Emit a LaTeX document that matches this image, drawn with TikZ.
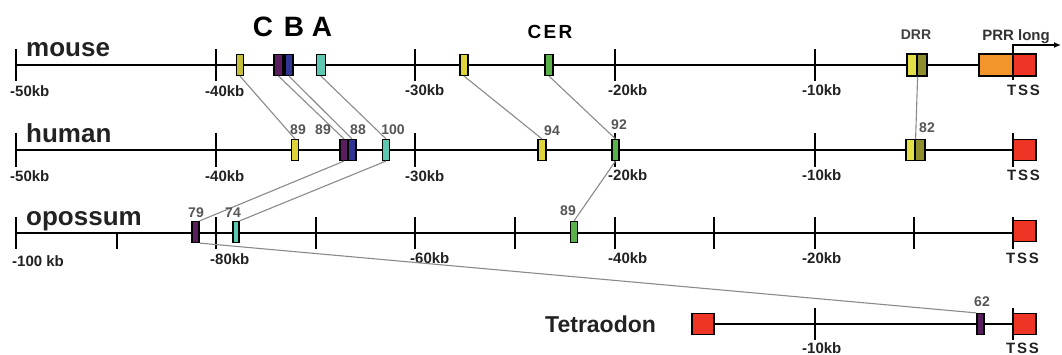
\documentclass[tikz,border=0pt]{standalone}
\usepackage{fontspec}
\setmainfont{Liberation Sans}
\usetikzlibrary{arrows.meta}
\definecolor{cyel}{HTML}{DCD43A}
\definecolor{colive}{HTML}{C4BE3C}
\definecolor{cpur}{HTML}{5A1D5E}
\definecolor{cblue}{HTML}{2F3590}
\definecolor{cteal}{HTML}{5CC8B2}
\definecolor{cgreen}{HTML}{58B248}
\definecolor{cdrry}{HTML}{E2E046}
\definecolor{cdrro}{HTML}{8E8E2E}
\definecolor{corange}{HTML}{F2962C}
\definecolor{cred}{HTML}{EE3424}
\definecolor{cconn}{HTML}{8A8A8A}
\definecolor{clab}{HTML}{222222}
\definecolor{cnum}{HTML}{555555}
\begin{document}
\begin{tikzpicture}[x=1pt,y=-1pt,
  box/.style={draw=black, line width=1.2pt, inner sep=0pt, minimum height=21pt},
  conn/.style={draw=cconn, line width=1.1pt},
  axis/.style={line width=2.6pt, black},
  tk/.style={line width=2.6pt, black},
  kb/.style={font=\bfseries\fontsize{15}{15}\selectfont, text=clab, anchor=west, inner sep=0pt},
  tss/.style={font=\bfseries\fontsize{15}{15}\selectfont\addfontfeature{LetterSpace=12}, text=clab, anchor=west, inner sep=0pt},
  num/.style={font=\bfseries\fontsize{14}{14}\selectfont, text=cnum, inner sep=0pt},
  species/.style={font=\bfseries\fontsize{26}{26}\selectfont, text=clab, anchor=base west, inner sep=0pt},
  title/.style={font=\bfseries\fontsize{28}{28}\selectfont, text=black, inner sep=0pt},
]
\useasboundingbox (0,0) rectangle (1062,355);

% ---------- axes ----------
\draw[axis] (16,65) -- (1013,65);
\draw[axis] (16,150) -- (1013,150);
\draw[axis] (16,233) -- (1013,233);

% ---------- ticks ----------
\foreach \x in {16,216,415,615,815} {
  \draw[tk] (\x,49) -- (\x,81);
  \draw[tk] (\x,133) -- (\x,167);
}
\foreach \x in {16,216,316,415,515,615,714,815,914} {
  \draw[tk] (\x,217) -- (\x,249);
}
\draw[tk] (117,233) -- (117,249);

% ---------- species labels ----------
\node[species] (lmouse) at (26,57) {mouse};
\node[species] (lhuman) at (26,143) {human};
\node[species] (lopossum) at (26,226) {opossum};
\node[species, font=\bfseries\fontsize{23}{23}\selectfont] (ltetra) at (545,332) {Tetraodon};

% ---------- titles ----------
\node[title] (tC) at (263,27) {C};
\node[title] (tB) at (294,27) {B};
\node[title] (tA) at (322,27) {A};
\node[font=\bfseries\fontsize{19}{19}\selectfont\addfontfeature{LetterSpace=12}, inner sep=0pt] (tCER) at (550,32) {CER};
\node[font=\bfseries\fontsize{14}{14}\selectfont, text=black!75, inner sep=0pt] (tDRR) at (916,35) {DRR};
\node[font=\bfseries\fontsize{15}{15}\selectfont, text=black!80, inner sep=0pt, anchor=base] (tPRR) at (1016,41) {PRR long};

% ---------- kb labels ----------
\node[kb] at (10,91) {-50kb};
\node[kb] at (205,91) {-40kb};
\node[kb] at (405,90) {-30kb};
\node[kb] at (608,90) {-20kb};
\node[kb] at (802,90) {-10kb};
\node[tss] at (1007,90) {TSS};

\node[kb] at (10,176) {-50kb};
\node[kb] at (205,176) {-40kb};
\node[kb] at (405,176) {-30kb};
\node[kb] at (608,175) {-20kb};
\node[kb] at (802,175) {-10kb};
\node[tss] at (1007,175) {TSS};

\node[kb] at (12,261) {-100 kb};
\node[kb] at (210,259) {-80kb};
\node[kb] at (410,258) {-60kb};
\node[kb] at (608,258) {-40kb};
\node[kb] at (802,258) {-20kb};
\node[tss] at (1006,258) {TSS};

\node[kb] at (802,348) {-10kb};
\node[tss] at (1006,348) {TSS};

% ---------- mouse boxes ----------
\node[box, fill=colive, minimum width=7pt] (mY1) at (240,65) {};
\node[box, fill=cpur, minimum width=9pt] (mP) at (278.5,65) {};
\node[box, fill=cblue, minimum width=8pt] (mB) at (289,65) {};
\node[box, fill=cteal, minimum width=9pt] (mC) at (321,65) {};
\node[box, fill=cyel, minimum width=8pt] (mY2) at (464,65) {};
\node[box, fill=cgreen, minimum width=8pt] (mG) at (549,65) {};
\node[box, fill=cdrry, minimum width=10pt, minimum height=22pt] (mDy) at (912,65) {};
\node[box, fill=cdrro, minimum width=10pt, minimum height=22pt] (mDo) at (922,65) {};
\node[box, fill=corange, minimum width=34pt, minimum height=22pt] (mO) at (996,65) {};
\node[box, fill=cred, minimum width=23pt, minimum height=22pt] (mR) at (1024.5,65) {};

% ---------- human boxes ----------
\node[box, fill=cyel, minimum width=7pt] (hY1) at (295,150) {};
\node[box, fill=cpur, minimum width=8pt] (hP) at (344,150) {};
\node[box, fill=cblue, minimum width=8pt] (hB) at (352,150) {};
\node[box, fill=cteal, minimum width=7pt] (hC) at (386,150) {};
\node[box, fill=cyel, minimum width=8pt] (hY2) at (542,150) {};
\node[box, fill=cgreen, minimum width=7pt] (hG) at (615.5,150) {};
\node[box, fill=cdrry, minimum width=9pt] (hDy) at (910.5,150) {};
\node[box, fill=cdrro, minimum width=10pt] (hDo) at (920,150) {};
\node[box, fill=cred, minimum width=23pt] (hR) at (1024.5,150) {};

% ---------- opossum boxes ----------
\node[box, fill=cpur, minimum width=7pt] (oP) at (195.5,232) {};
\node[box, fill=cteal, minimum width=6pt] (oC) at (236,232) {};
\node[box, fill=cgreen, minimum width=7pt] (oG) at (574,232) {};
\node[box, fill=cred, minimum width=23pt] (oR) at (1024.5,231) {};

% ---------- tetraodon ----------
\node[box, fill=cred, minimum width=22pt] (tL) at (703,324) {};
\coordinate (tEnd) at (1013,324);
\draw[axis] (tL.east) -- (tEnd);
\node[box, fill=cpur, minimum width=7pt] (tP) at (980.5,324) {};
\node[box, fill=cred, minimum width=23pt] (tR) at (1024.5,324) {};
\draw[tk] (815,308) -- (815,340);

% ---------- connectors ----------
\draw[conn] (mY1.south) -- (hY1.north);
\draw[conn] (mP.south) -- (hP.north);
\draw[conn] (mB.south) -- (hB.north);
\draw[conn] (mC.south) -- (hC.north);
\draw[conn] (mY2.south) -- (hY2.north);
\draw[conn] (mG.south) -- (hG.north);
\draw[conn] (mDy.south east) -- (hDy.north east);
\draw[conn] (hP.south) -- (oP.north east);
\draw[conn] (hC.south) -- (oC.north east);
\draw[conn] (hG.south) -- (oG.north);
\draw[conn] (oP.south east) -- (tP.north west);

% ---------- TSS ticks and arrow ----------
\draw[tk] (1013,80) -- (1013,48);
\draw[line width=1.5pt, -{Latex[length=7pt,width=6pt]}] (1013,48) -- (1013,45) -- (1061,45);
\draw[tk] (1013,133) -- (1013,167);
\draw[tk] (1013,217) -- (1013,249);
\draw[tk] (1013,308) -- (1013,340);

% ---------- identity numbers ----------
\node[num] at (298,130) {89};
\node[num] at (323,130) {89};
\node[num] at (358,130) {88};
\node[num] at (393,130) {100};
\node[num] at (552,131) {94};
\node[num] at (619,125) {92};
\node[num] at (927,128) {82};
\node[num] at (196,213) {79};
\node[num] at (233,213) {74};
\node[num] at (568,211) {89};
\node[num] at (982,302) {62};
\end{tikzpicture}
\end{document}
